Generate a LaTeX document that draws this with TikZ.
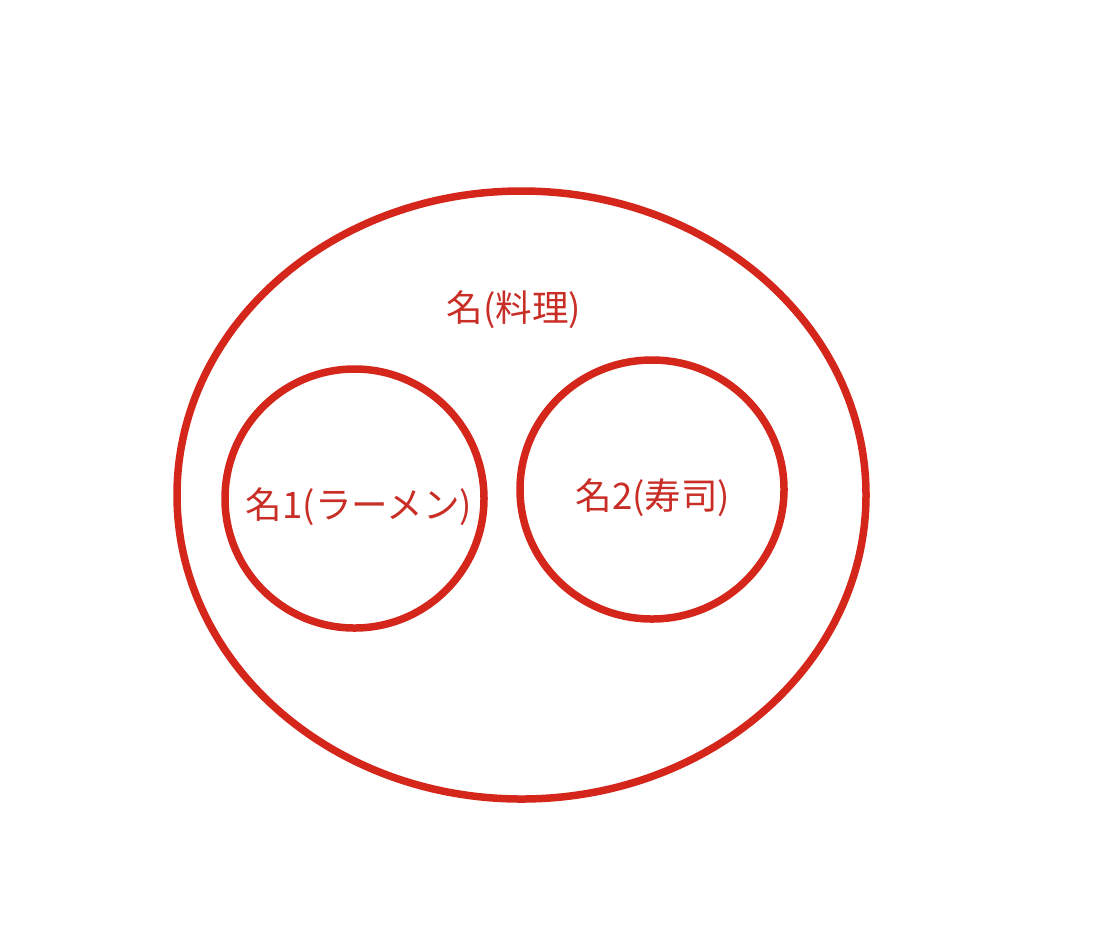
\documentclass[tikz,border=0pt]{standalone}
\usepackage{fontspec}
\newfontfamily\jpfont{Noto Sans CJK JP}
\usepackage{xcolor}
\usepackage{tikz}
\usetikzlibrary{shapes.geometric,positioning}
\definecolor{ringred}{RGB}{212,38,26}
\definecolor{textred}{RGB}{200,45,38}

\begin{document}
\begin{tikzpicture}[
    ring/.style={ellipse, draw=ringred, line width=0.075cm, inner sep=0pt, outer sep=0pt},
    setname/.style={text=textred, font=\jpfont\fontsize{10.4}{12}\selectfont, inner sep=0pt}
]
    \useasboundingbox (0,0) rectangle (11.12,-9.26);

    % Outer set
    \node[ring, minimum width=6.89cm, minimum height=6.08cm] (ryori) at (5.215,-4.95) {};
    \node[setname] (ryorilbl) at (5.14,-3.1) {名(料理)};

    % Inner sets
    \node[ring, minimum width=2.59cm, minimum height=2.59cm] (ramen) at (3.545,-4.985) {};
    \node[ring, minimum width=2.64cm, minimum height=2.59cm] (sushi) at (6.52,-4.895) {};
    \node[setname] (ramenlbl) at (3.59,-5.07) {名1(ラーメン)};
    \node[setname] (sushilbl) at (6.53,-4.98) {名2(寿司)};
\end{tikzpicture}
\end{document}
